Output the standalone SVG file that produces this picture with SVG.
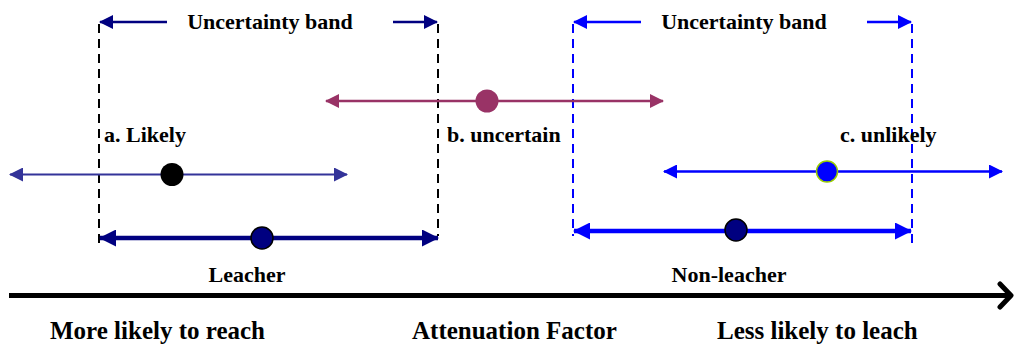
<svg xmlns="http://www.w3.org/2000/svg" width="1014" height="345" viewBox="0 0 1014 345">
<style>
text{font-family:"Liberation Serif","Times New Roman",serif;font-weight:bold;fill:#000}
.t22{font-size:22px}
.t25{font-size:25px}
.dash{fill:none;stroke-width:2;stroke-dasharray:9,6}
</style>
<defs>
<marker id="mNavy" viewBox="0 0 14 14" refX="13" refY="7" markerWidth="14" markerHeight="14" markerUnits="userSpaceOnUse" orient="auto-start-reverse"><path d="M0,0 L14,7 L0,14 z" fill="#000080"/></marker>
<marker id="mNavyB" viewBox="0 0 17 17" refX="16" refY="8.5" markerWidth="17" markerHeight="17" markerUnits="userSpaceOnUse" orient="auto-start-reverse"><path d="M0,0 L17,8.5 L0,17 z" fill="#000080"/></marker>
<marker id="mBlue" viewBox="0 0 14 14" refX="13" refY="7" markerWidth="14" markerHeight="14" markerUnits="userSpaceOnUse" orient="auto-start-reverse"><path d="M0,0 L14,7 L0,14 z" fill="#0000FF"/></marker>
<marker id="mBlueB" viewBox="0 0 17 17" refX="16" refY="8.5" markerWidth="17" markerHeight="17" markerUnits="userSpaceOnUse" orient="auto-start-reverse"><path d="M0,0 L17,8.5 L0,17 z" fill="#0000FF"/></marker>
<marker id="mSlate" viewBox="0 0 14 14" refX="13" refY="7" markerWidth="14" markerHeight="14" markerUnits="userSpaceOnUse" orient="auto-start-reverse"><path d="M0,0 L14,7 L0,14 z" fill="#333399"/></marker>
<marker id="mMag" viewBox="0 0 14 14" refX="13" refY="7" markerWidth="14" markerHeight="14" markerUnits="userSpaceOnUse" orient="auto-start-reverse"><path d="M0,0 L14,7 L0,14 z" fill="#993366"/></marker>
</defs>

<g id="connectors">
  <!-- left uncertainty band -->
  <line class="dash" x1="99" y1="24" x2="99" y2="243" stroke="#000"/>
  <line class="dash" x1="438" y1="24" x2="438" y2="236" stroke="#000"/>
  <line x1="167" y1="22" x2="100" y2="22" stroke="#000080" stroke-width="2.5" marker-end="url(#mNavy)"/>
  <line x1="393" y1="22" x2="437" y2="22" stroke="#000080" stroke-width="2.5" marker-end="url(#mNavy)"/>
  <!-- right uncertainty band -->
  <line class="dash" x1="573" y1="24" x2="573" y2="236" stroke="#0000FF"/>
  <line class="dash" x1="912" y1="24" x2="912" y2="243" stroke="#0000FF"/>
  <line x1="641" y1="22" x2="574" y2="22" stroke="#0000FF" stroke-width="2.5" marker-end="url(#mBlue)"/>
  <line x1="867" y1="22" x2="911" y2="22" stroke="#0000FF" stroke-width="2.5" marker-end="url(#mBlue)"/>
  <!-- range lines -->
  <line x1="326" y1="101" x2="663" y2="101" stroke="#993366" stroke-width="2.5" marker-start="url(#mMag)" marker-end="url(#mMag)"/>
  <line x1="10" y1="174.5" x2="347" y2="174.5" stroke="#333399" stroke-width="2" marker-start="url(#mSlate)" marker-end="url(#mSlate)"/>
  <line x1="100" y1="238" x2="438" y2="238" stroke="#000080" stroke-width="4.5" marker-start="url(#mNavyB)" marker-end="url(#mNavyB)"/>
  <line x1="664" y1="171.5" x2="1002" y2="171.5" stroke="#0000FF" stroke-width="2.5" marker-start="url(#mBlue)" marker-end="url(#mBlue)"/>
  <line x1="574" y1="231" x2="911" y2="231" stroke="#0000FF" stroke-width="4.5" marker-start="url(#mBlueB)" marker-end="url(#mBlueB)"/>
  <!-- main axis -->
  <line x1="9" y1="295.5" x2="1010" y2="295.5" stroke="#000" stroke-width="5"/>
  <polyline points="1000,284 1011,295.5 1000,307" fill="none" stroke="#000" stroke-width="5" stroke-linecap="round" stroke-linejoin="round"/>
</g>

<g id="point-b"><circle cx="487" cy="101" r="11.5" fill="#993366"/></g>
<g id="point-a"><circle cx="172" cy="174.5" r="11.5" fill="#000"/></g>
<g id="point-leacher"><circle cx="262" cy="238" r="11" fill="#000080" stroke="#000" stroke-width="1.5"/></g>
<g id="point-c"><circle cx="827" cy="171.5" r="10.5" fill="#0000FF" stroke="#99CC00" stroke-width="1.5"/></g>
<g id="point-nonleacher"><circle cx="736" cy="230" r="11" fill="#000080" stroke="#000" stroke-width="1.5"/></g>

<g id="labels">
  <text class="t22" x="270" y="29" text-anchor="middle">Uncertainty band</text>
  <text class="t22" x="744" y="29" text-anchor="middle">Uncertainty band</text>
  <text class="t22" x="104" y="142">a. Likely</text>
  <text class="t22" x="447" y="142">b. uncertain</text>
  <text class="t22" x="840" y="142">c. unlikely</text>
  <text class="t22" x="247" y="282" text-anchor="middle">Leacher</text>
  <text class="t22" x="729" y="282" text-anchor="middle">Non-leacher</text>
  <text class="t25" x="50" y="339">More likely to reach</text>
  <text class="t25" x="412" y="339">Attenuation Factor</text>
  <text class="t25" x="717" y="339">Less likely to leach</text>
</g>
</svg>
